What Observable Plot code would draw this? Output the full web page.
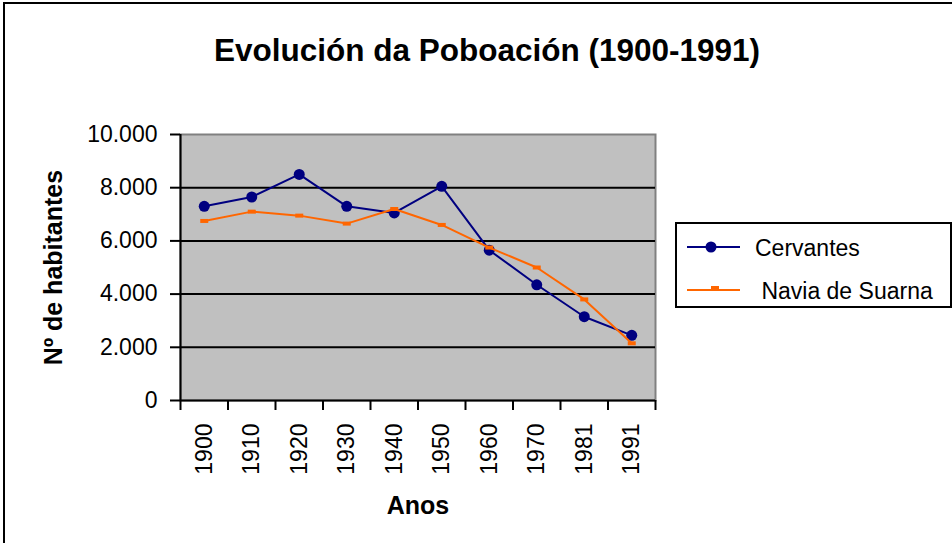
<!DOCTYPE html>
<html>
<head>
<meta charset="utf-8">
<script src="https://cdn.jsdelivr.net/npm/d3@7"></script>
<script src="https://cdn.jsdelivr.net/npm/@observablehq/plot@0.6"></script>
<style>
  html, body { margin: 0; padding: 0; background: #fff; }
  #wrap { position: relative; width: 952px; height: 543px; overflow: hidden; font-family: "Liberation Sans", Arial, sans-serif; }
  #border { position: absolute; left: 3px; top: 2px; width: 1000px; height: 600px; border-left: 2px solid #000; border-top: 2px solid #000; box-sizing: border-box; }
  #chart { position: absolute; left: 0; top: 0; }
  #legend { position: absolute; left: 0; top: 0; }
</style>
</head>
<body>
<div id="wrap">
  <div id="border"></div>
  <div id="chart"></div>
  <svg id="legend" width="952" height="543"></svg>
</div>
<script>
const title = "Evolución da Poboación (1900-1991)";
const xLabel = "Anos";
const yLabel = "Nº de habitantes";
const years = ["1900","1910","1920","1930","1940","1950","1960","1970","1981","1991"];
const seriesNames = ["Cervantes", " Navia de Suarna"];
const cervantes = [7300, 7650, 8500, 7300, 7050, 8050, 5650, 4350, 3150, 2450];
const navia = [6750, 7100, 6950, 6650, 7200, 6600, 5750, 5000, 3800, 2150];
const yTicks = [0, 2000, 4000, 6000, 8000, 10000];

const colors = ["#000080", "#ff6600"];
const data = years.map((y, i) => ({i: i + 0.5, year: y, cervantes: cervantes[i], navia: navia[i]}));
const fmt = d3.formatLocale({decimal: ",", thousands: ".", grouping: [3], currency: ["", ""]}).format(",");
const rectSymbol = {draw(ctx) { ctx.rect(-4, -2, 8, 4); }};

const chart = Plot.plot({
  width: 952,
  height: 543,
  marginLeft: 180,
  marginRight: 297,
  marginTop: 134,
  marginBottom: 143,
  style: {fontFamily: "'Liberation Sans', Arial, sans-serif", fontSize: "23px", color: "#000", background: "transparent", overflow: "visible"},
  x: {domain: [0, years.length]},
  y: {domain: [0, 10000]},
  marks: [
    Plot.frame({fill: "#c0c0c0", stroke: "#808080", strokeWidth: 2}),
    Plot.gridY(yTicks.slice(1, -1), {stroke: "#000", strokeOpacity: 1, strokeWidth: 2}),
    Plot.ruleX([0], {stroke: "#000", strokeWidth: 2}),
    Plot.ruleY([0], {stroke: "#000", strokeWidth: 2}),
    Plot.axisY(yTicks, {tickSize: 10, tickPadding: 13, tickFormat: fmt, label: null, strokeWidth: 2, fontSize: 23}),
    Plot.axisX(d3.range(years.length + 1), {tickSize: 10, tickFormat: () => "", label: null, strokeWidth: 2}),
    Plot.axisX(data.map(d => d.i), {tickSize: 0, tickPadding: 23, tickRotate: -90, tickFormat: d => years[Math.floor(d)], label: null, fontSize: 23}),
    Plot.line(data, {x: "i", y: "cervantes", stroke: colors[0], strokeWidth: 2}),
    Plot.dot(data, {x: "i", y: "cervantes", r: 5.5, fill: colors[0], stroke: "none"}),
    Plot.line(data, {x: "i", y: "navia", stroke: colors[1], strokeWidth: 2}),
    Plot.dot(data, {x: "i", y: "navia", symbol: rectSymbol, fill: colors[1], stroke: "none"}),
    Plot.text([xLabel], {frameAnchor: "bottom", textAnchor: "middle", lineAnchor: "middle", dy: 105, fontWeight: "bold", fontSize: 25}),
    Plot.text([yLabel], {frameAnchor: "left", textAnchor: "middle", lineAnchor: "middle", rotate: -90, dx: -127, fontWeight: "bold", fontSize: 25}),
    Plot.text([title], {frameAnchor: "top", textAnchor: "middle", lineAnchor: "middle", dy: -84, dx: 69, fontWeight: "bold", fontSize: 31.5})
  ]
});
document.getElementById("chart").appendChild(chart);

// legend
const lg = d3.select("#legend");
lg.append("rect").attr("x", 676).attr("y", 223).attr("width", 275).attr("height", 84)
  .attr("fill", "#fff").attr("stroke", "#000").attr("stroke-width", 2);
const rows = [247, 290];
seriesNames.forEach((name, k) => {
  const y = rows[k];
  lg.append("line").attr("x1", 687).attr("x2", 740).attr("y1", y).attr("y2", y)
    .attr("stroke", colors[k]).attr("stroke-width", 2);
  if (k === 0) {
    lg.append("circle").attr("cx", 711).attr("cy", y).attr("r", 5.5).attr("fill", colors[k]);
  } else {
    lg.append("rect").attr("x", 711).attr("y", y - 4).attr("width", 8).attr("height", 4).attr("fill", colors[k]);
  }
  lg.append("text").attr("x", 755).attr("y", y + 8.5)
    .attr("font-family", "'Liberation Sans', Arial, sans-serif").attr("font-size", 23)
    .attr("xml:space", "preserve").style("white-space", "pre")
    .text(name);
});
</script>
</body>
</html>
